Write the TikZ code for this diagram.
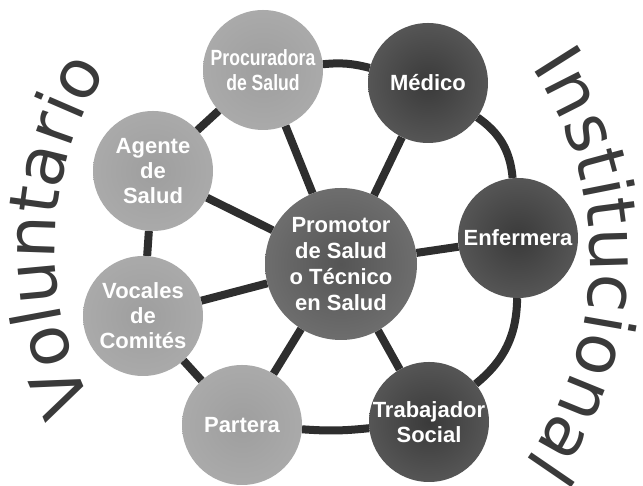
\documentclass[tikz,border=0pt]{standalone}
\usepackage{fontspec}
\setmainfont{Liberation Sans}
\newfontfamily\wordfont{DejaVu Sans}
\usepackage{graphicx}
\usetikzlibrary{calc, decorations.text}

\definecolor{lightin}{HTML}{9E9E9E}
\definecolor{lightout}{HTML}{B6B6B6}
\definecolor{darkin}{HTML}{3A3A3A}
\definecolor{darkout}{HTML}{717171}
\definecolor{hubin}{HTML}{555555}
\definecolor{hubout}{HTML}{868686}
\definecolor{linkgray}{HTML}{2E2E2E}
\definecolor{wordgray}{HTML}{3A3A3A}

\pgfdeclareradialshading{lightball}{\pgfpoint{0bp}{0bp}}{color(0bp)=(lightin); color(50bp)=(lightout)}
\pgfdeclareradialshading{darkball}{\pgfpoint{0bp}{0bp}}{color(0bp)=(darkin); color(50bp)=(darkout)}
\pgfdeclareradialshading{hubball}{\pgfpoint{0bp}{0bp}}{color(0bp)=(hubin); color(50bp)=(hubout)}

\tikzstyle{light} = [circle, minimum size=120pt, inner sep=0pt, shading=lightball, text=white, align=center, font=\bfseries\fontsize{22}{25}\selectfont]
\tikzstyle{dark} = [light, shading=darkball]
\tikzstyle{hub} = [light, minimum size=152pt, shading=hubball, font=\bfseries\fontsize{22}{26}\selectfont]
\tikzstyle{link} = [line width=8pt, draw=linkgray]
\tikzstyle{arcword} = [decorate, decoration={text along path, text align=center, text color=wordgray}]

\begin{document}
\begin{tikzpicture}[x=1pt, y=1pt]

\useasboundingbox (0,0) rectangle (643,486);

%% NODES

\node (prom) [hub] at (341,222) {Promotor\\de Salud\\o Técnico\\en Salud};
\node (proc) [light] at (263,416) {\scalebox{0.8}[1]{Procuradora}\\\scalebox{0.8}[1]{de Salud}};
\node (agente) [light] at (153,315) {Agente\\de\\Salud};
\node (vocales) [light] at (143,170) {Vocales\\de\\Comités};
\node (partera) [light] at (242,61) {Partera};
\node (medico) [dark] at (428,403) {Médico};
\node (enf) [dark] at (518,248) {Enfermera};
\node (trab) [dark] at (429,64) {Trabajador\\Social};

\coordinate (volc) at (395,236);
\coordinate (insc) at (244,226);

%% ARROWS

\draw [link] (prom) -- (proc);
\draw [link] (prom) -- (medico);
\draw [link] (prom) -- (enf);
\draw [link] (prom) -- (trab);
\draw [link] (prom) -- (partera);
\draw [link] (prom) -- (vocales);
\draw [link] (prom) -- (agente);

\draw [link] (proc) to[bend left=10] (medico);
\draw [link] (medico) to[bend left=25] (enf);
\draw [link] (enf) to[bend left=25] (trab);
\draw [link] (trab) to[bend left=5] (partera);
\draw [link] (partera) -- (vocales);
\draw [link] (vocales) -- (agente);
\draw [link] (agente) -- (proc);

%% WORDS

\path [arcword, decoration={text={|\wordfont\fontsize{68}{68}\selectfont|Voluntario}}] ($(volc)+(213.5:340pt)$) arc[start angle=213.5, end angle=141.5, radius=340pt];
\path [arcword, decoration={text={|\wordfont\fontsize{69}{69}\selectfont|Institucional}}] ($(insc)+(39:346pt)$) arc[start angle=39, end angle=-41, radius=346pt];

\end{tikzpicture}
\end{document}
